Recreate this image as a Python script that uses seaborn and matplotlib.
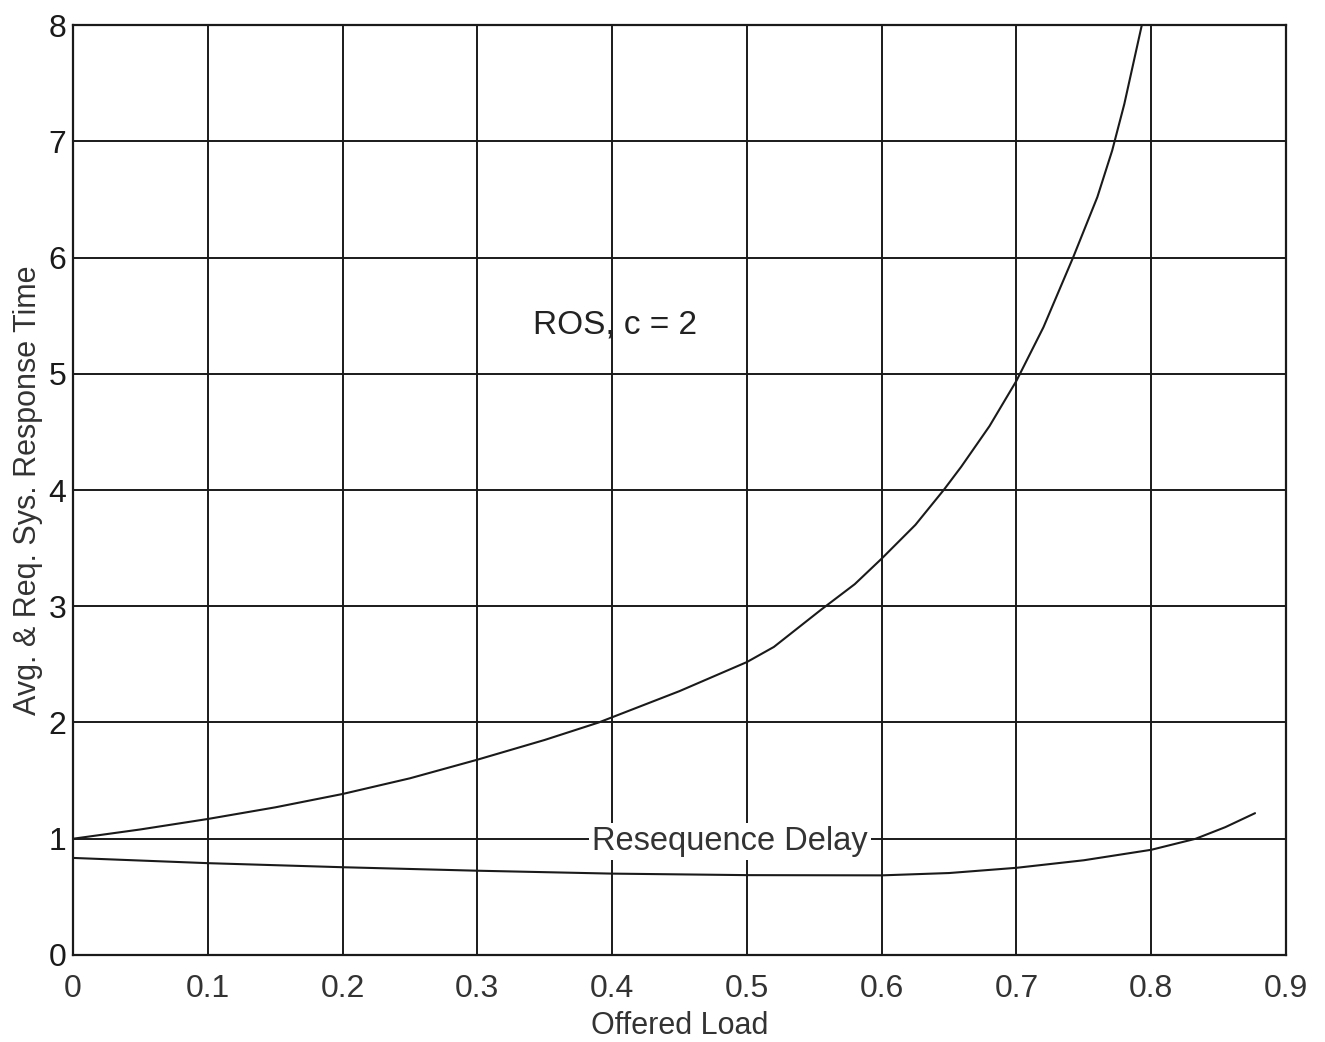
import numpy as np
import pandas as pd
import matplotlib
matplotlib.use("Agg")
import matplotlib.pyplot as plt
import seaborn as sns

# Values
load_upper = [0.0, 0.05, 0.1, 0.15, 0.2, 0.25, 0.3, 0.35, 0.39, 0.45, 0.5, 0.52,
              0.555, 0.58, 0.6, 0.625, 0.646, 0.659, 0.68, 0.7, 0.72, 0.742, 0.76,
              0.771, 0.78, 0.793]
resp_time = [1.0, 1.08, 1.17, 1.27, 1.385, 1.52, 1.68, 1.85, 2.0, 2.27, 2.52, 2.65,
             2.97, 3.19, 3.41, 3.7, 4.0, 4.2, 4.55, 4.94, 5.4, 6.0, 6.52, 6.92, 7.32, 8.0]

load_lower = [0.0, 0.1, 0.2, 0.3, 0.4, 0.5, 0.6, 0.65, 0.7, 0.75, 0.8, 0.833, 0.855, 0.877]
reseq_delay = [0.835, 0.79, 0.755, 0.725, 0.70, 0.687, 0.685, 0.705, 0.75, 0.815, 0.905, 1.0, 1.1, 1.22]

x_ticks = [0, 0.1, 0.2, 0.3, 0.4, 0.5, 0.6, 0.7, 0.8, 0.9]
x_tick_labels = ["0", "0.1", "0.2", "0.3", "0.4", "0.5", "0.6", "0.7", "0.8", "0.9"]
y_ticks = [0, 1, 2, 3, 4, 5, 6, 7, 8]

sns.set_style("white")
plt.rcParams['font.family'] = ['Liberation Sans', 'DejaVu Sans']

fig = plt.figure(figsize=(13.25, 10.42), dpi=100)
ax = fig.add_axes([0.0551, 0.0835, 0.9155, 0.8925])

upper = pd.DataFrame({"load": load_upper, "value": resp_time})
lower = pd.DataFrame({"load": load_lower, "value": reseq_delay})
sns.lineplot(data=upper, x="load", y="value", color="#1a1a1a", linewidth=1.5, ax=ax)
sns.lineplot(data=lower, x="load", y="value", color="#1a1a1a", linewidth=1.5, ax=ax)

ax.set_xlim(0, 0.9)
ax.set_ylim(0, 8)
ax.set_xticks(x_ticks)
ax.set_xticklabels(x_tick_labels)
ax.set_yticks(y_ticks)
ax.grid(True, color="#1a1a1a", linewidth=1.4)
ax.set_axisbelow(True)
for s in ax.spines.values():
    s.set_color("#1a1a1a")
    s.set_linewidth(1.6)

ax.tick_params(axis='x', length=0, pad=14, labelsize=23, colors="#333333")
ax.tick_params(axis='y', length=0, pad=5, labelsize=23, colors="#1a1a1a")
ax.set_xlabel("Offered Load", fontsize=22, color="#333333", labelpad=5)
ax.set_ylabel("Avg. & Req. Sys. Response Time", fontsize=22, color="#333333", labelpad=4)

ax.text(0.341, 5.42, "ROS, c = 2", fontsize=24, color="#222222", ha="left", va="center")
ax.text(0.4875, 0.975, "Resequence Delay", fontsize=23.5, color="#333333", ha="center", va="center",
        bbox=dict(facecolor="white", edgecolor="none", pad=2))

fig.savefig("out.png", dpi=100)
